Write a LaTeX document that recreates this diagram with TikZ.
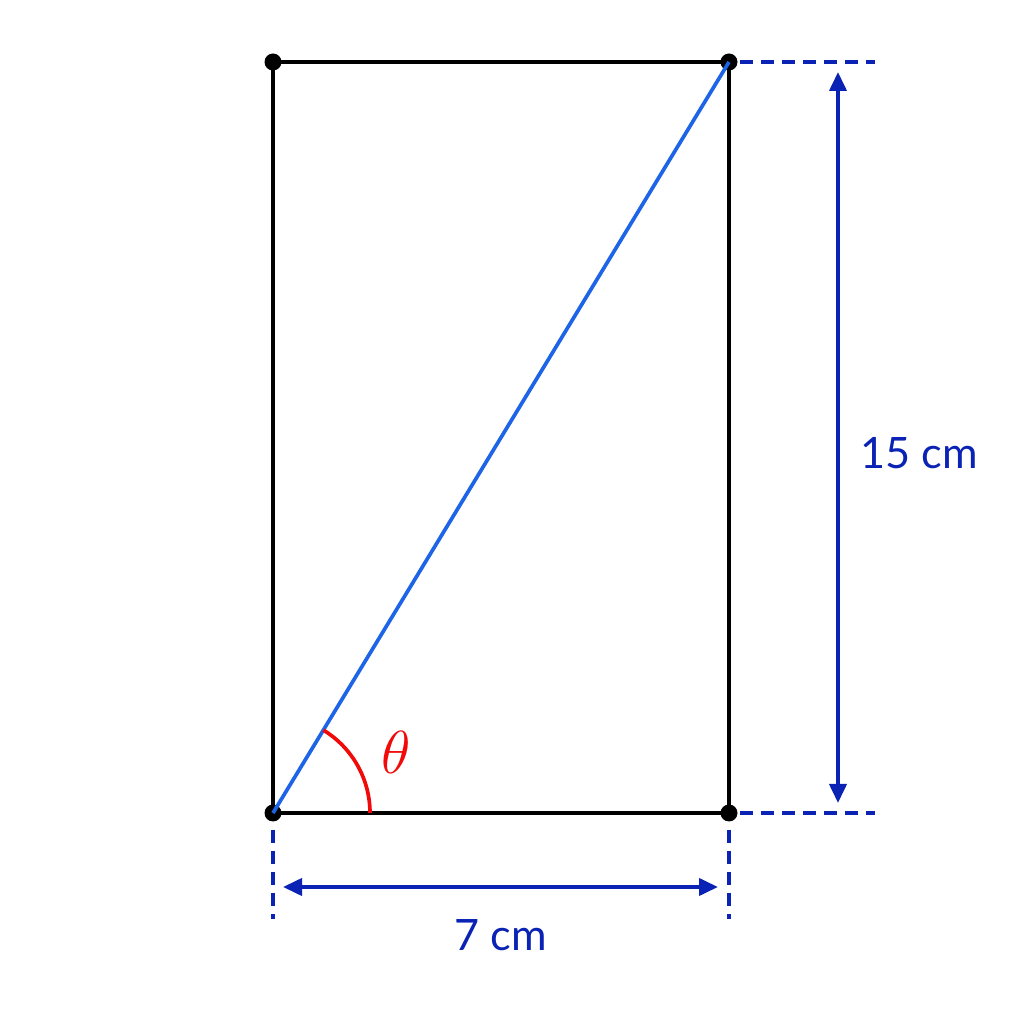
\documentclass[tikz,border=0pt]{standalone}
\usepackage{fontspec}
\newfontfamily\labelfont{Lato}
\usetikzlibrary{calc,arrows.meta}
\definecolor{diagblue}{RGB}{30,100,230}
\definecolor{dimblue}{RGB}{10,35,180}
\definecolor{angred}{RGB}{240,10,10}
\begin{document}
\begin{tikzpicture}[dot/.style = {circle, fill=black, inner sep=0pt, minimum size=0.17cm},
        side/.style = {line width=1.1pt, black},
        ext/.style = {dimblue, line width=1pt, dash pattern=on 0.13cm off 0.08cm},
        dim/.style = {dimblue, line width=1.1pt, {Triangle[length=0.19cm,width=0.17cm]}-{Triangle[length=0.19cm,width=0.17cm]}},
        lab/.style = {text=dimblue, font=\labelfont\fontsize{12.3}{15}\selectfont}]
        \useasboundingbox (0,0) rectangle (10.24,10.24);
        \node[dot] (A) at (2.73,2.11) {};
        \node[dot] (B) [right of=A, node distance=4.56cm] {};
        \node[dot] (C) [above of=B, node distance=7.51cm] {};
        \node[dot] (D) [left of=C, node distance=4.56cm] {};
        %
        \draw[side] (A.center) -- (B.center) -- (C.center) -- (D.center) -- cycle;
        \draw[diagblue, line width=1.05pt] (A.center) -- (C.center);
        \draw[angred, line width=1.05pt] ($(A.center)+(0.97,0)$) arc (0:58.7:0.97);
        \node[text=angred, font=\fontsize{17}{19}\selectfont] (theta) at (3.96,2.72) {$\theta$};
        %
        \coordinate (e1) at (7.40,9.62);  \coordinate (e2) at (8.75,9.62);
        \coordinate (e3) at (7.40,2.11);  \coordinate (e4) at (8.75,2.11);
        \coordinate (e5) at (2.73,1.94);  \coordinate (e6) at (2.73,1.05);
        \coordinate (e7) at (7.29,1.94);  \coordinate (e8) at (7.29,1.05);
        \draw[ext] (e1) -- (e2);
        \draw[ext] (e3) -- (e4);
        \draw[ext] (e5) -- (e6);
        \draw[ext] (e7) -- (e8);
        %
        \coordinate (vt) at (8.38,9.52);  \coordinate (vb) at (8.38,2.21);
        \coordinate (hl) at (2.83,1.37);  \coordinate (hr) at (7.18,1.37);
        \draw[dim] (vb) -- (vt);
        \draw[dim] (hl) -- (hr);
        \node[lab] (height) at (9.19,5.71) {15 cm};
        \node[lab] (width) at (5.01,0.89) {7 cm};
      \end{tikzpicture}
\end{document}
